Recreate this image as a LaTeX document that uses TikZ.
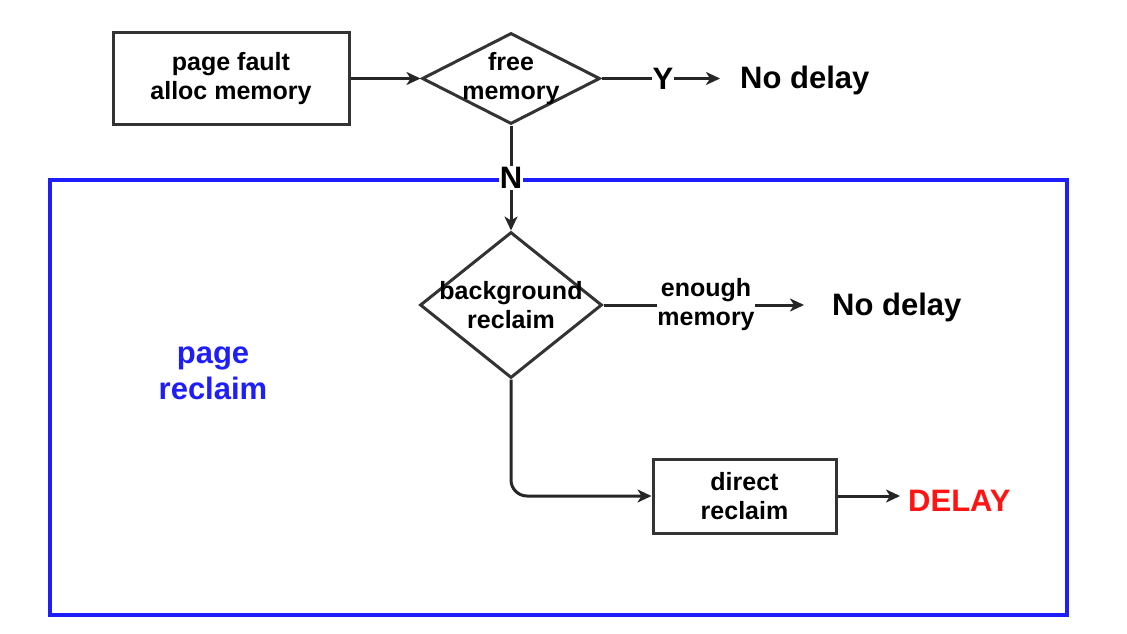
\documentclass[tikz,border=0pt]{standalone}
\usepackage{fontspec}
\setmainfont{Liberation Sans}
\usetikzlibrary{shapes.geometric,arrows.meta}
\begin{document}
\begin{tikzpicture}[x=1pt,y=-1pt,
  lbl/.style={font=\fontsize{25}{29}\selectfont\bfseries, align=center, inner sep=0pt},
  big/.style={font=\fontsize{31}{36}\selectfont\bfseries, align=center, inner sep=0pt},
  boxnode/.style={draw=black!80, line width=3pt, inner sep=0pt},
  dia/.style={diamond, draw=black!80, line width=3pt, inner sep=0pt},
  conn/.style={draw=black!85, line width=3pt},
  arr/.style={conn, -{Stealth[length=14pt,width=13pt,inset=4pt]}}]
\useasboundingbox[fill=white] (0,0) rectangle (1127,634);
% frame
\node[draw={rgb,255:red,30;green,30;blue,250}, line width=3.2pt, minimum width=1017pt, minimum height=435pt, inner sep=0pt] (frame) at (558.5,397.5) {};
\node[big, text={rgb,255:red,30;green,30;blue,250}] (pr) at (213,373) {page\\reclaim};
% nodes
\node[boxnode, minimum width=236pt, minimum height=91pt] (pf) at (231,78.5) {};
\node[lbl] at (pf) {page fault\\alloc memory};
\node[dia, minimum width=178pt, minimum height=91pt] (d1) at (511,78.5) {};
\node[lbl] at (d1) {free\\memory};
\node[big] (y) at (663,78.5) {Y};
\node[big, anchor=west] (nd1) at (740,80) {No delay};
\node[big, fill=white, inner sep=1pt] (n) at (511,178) {N};
\node[dia, minimum width=182pt, minimum height=146pt] (d2) at (511,305) {};
\node[lbl] at (d2) {background\\reclaim};
\node[lbl, fill=white] (em) at (706,305) {enough\\memory};
\node[big, anchor=west] (nd2) at (832,307) {No delay};
\node[boxnode, minimum width=183pt, minimum height=74pt] (dr) at (744.5,496) {};
\node[lbl] at (dr) {direct\\reclaim};
\node[big, anchor=west, text={rgb,255:red,255;green,20;blue,20}] (delay) at (908,501) {DELAY};
% connectors
\draw[arr] (pf.east) -- (d1.west);
\draw[conn] (d1.east) -- (y.west);
\draw[arr, shorten >=20pt] (y.east) -- (y.east -| nd1.west);
\draw[conn] (d1.south) -- (n.north);
\draw[arr] (n.south) -- (d2.north);
\draw[conn] (d2.east) -- (em.west);
\draw[arr, shorten >=28pt] (em.east) -- (em.east -| nd2.west);
\draw[arr, rounded corners=16pt] (d2.south) |- (dr.west);
\draw[arr, shorten >=8pt] (dr.east) -- (dr.east -| delay.west);
\end{tikzpicture}
\end{document}
